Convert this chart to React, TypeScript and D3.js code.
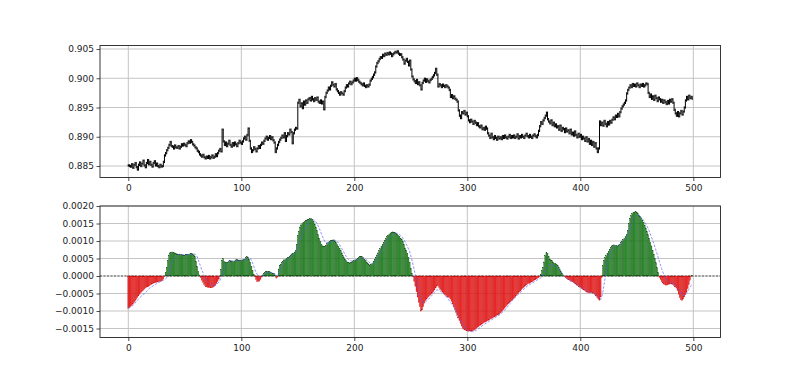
import React, { useEffect, useRef } from 'react';
import * as d3 from 'd3';

// Close prices in units of 0.0001 (index 0..499)
const closeX1e4 = [
8851,8850,8849,8853,8847,8852,8855,8848,8844,8852,
8856,8850,8854,8859,8851,8848,8855,8860,8853,8857,
8852,8849,8855,8858,8851,8854,8850,8848,8852,8849,
8850,8857,8868,8872,8877,8881,8886,8891,8884,8883,
8880,8885,8882,8881,8884,8880,8883,8887,8885,8888,
8886,8884,8889,8892,8890,8894,8891,8887,8885,8882,
8880,8876,8874,8870,8868,8866,8869,8865,8863,8866,
8864,8867,8863,8865,8868,8864,8866,8870,8867,8872,
8876,8879,8875,8912,8892,8886,8890,8884,8888,8893,
8886,8883,8889,8885,8890,8887,8884,8889,8893,8890,
8888,8892,8897,8900,8895,8903,8914,8893,8880,8874,
8877,8882,8879,8875,8880,8884,8881,8886,8890,8888,
8893,8897,8900,8895,8898,8901,8896,8899,8894,8890,
8874,8880,8886,8891,8895,8898,8902,8899,8906,8893,
8901,8906,8904,8912,8908,8889,8906,8912,8915,8914,
8958,8963,8952,8957,8949,8960,8955,8962,8958,8964,
8966,8962,8968,8964,8961,8966,8963,8967,8960,8958,
8962,8957,8960,8947,8968,8975,8979,8984,8981,8987,
8993,8989,8986,8990,8981,8978,8975,8972,8976,8974,
8972,8978,8984,8988,8986,8991,8994,8990,8993,8996,
8999,8996,9000,8997,8994,8992,8990,8988,8991,8987,
8985,8988,8986,8989,8996,8999,9002,9006,9010,9020,
9026,9029,9033,9036,9035,9040,9038,9042,9040,9043,
9041,9044,9042,9038,9041,9043,9045,9044,9046,9042,
9040,9041,9036,9032,9025,9030,9033,9028,9022,9030,
9015,9003,8998,8995,8992,8997,8990,8993,8988,8981,
8992,8996,8999,8994,8998,8995,8993,8997,8999,9002,
9005,9009,9016,9006,8986,8990,8988,8985,8989,8987,
8985,8988,8986,8984,8980,8968,8971,8966,8969,8965,
8963,8960,8945,8936,8932,8942,8940,8944,8938,8941,
8935,8928,8925,8929,8926,8922,8927,8924,8920,8923,
8918,8916,8919,8913,8915,8912,8917,8914,8906,8902,
8898,8905,8899,8896,8901,8898,8895,8900,8897,8899,
8896,8901,8898,8902,8899,8897,8900,8903,8898,8901,
8899,8902,8898,8900,8904,8897,8901,8899,8903,8900,
8898,8902,8905,8901,8899,8903,8900,8898,8902,8904,
8901,8899,8903,8910,8918,8925,8922,8928,8932,8936,
8941,8930,8926,8923,8928,8920,8924,8918,8921,8916,
8918,8912,8919,8910,8915,8913,8908,8914,8909,8911,
8906,8912,8904,8907,8902,8909,8903,8899,8905,8900,
8903,8896,8900,8897,8893,8899,8892,8896,8888,8893,
8886,8891,8883,8889,8880,8874,8880,8926,8920,8924,
8919,8927,8922,8918,8925,8921,8927,8924,8929,8933,
8930,8936,8934,8939,8935,8942,8948,8952,8955,8958,
8962,8974,8980,8984,8988,8985,8990,8987,8989,8986,
8991,8988,8985,8989,8987,8990,8986,8988,8991,8990,
8975,8968,8972,8965,8969,8963,8970,8966,8961,8967,
8964,8960,8963,8958,8962,8959,8956,8961,8957,8963,
8960,8964,8958,8946,8940,8936,8942,8935,8940,8944,
8938,8943,8950,8962,8968,8964,8970,8966,8968,8965,
];

// Oscillator histogram in units of 0.00001
const oscX1e5 = [
-92,-90,-87,-84,-80,-76,-72,-67,-62,-57,
-52,-48,-45,-42,-38,-35,-33,-31,-29,-27,
-25,-23,-21,-20,-19,-18,-17,-16,-15,-15,
-13,-9,-2,10,25,45,60,66,68,69,
68,66,64,63,62,61,62,61,60,59,
60,61,62,62,63,64,65,63,60,55,
42,28,14,3,-5,-12,-18,-24,-28,-31,
-32,-33,-33,-34,-33,-32,-30,-27,-22,-16,
-9,-2,18,45,50,42,40,39,38,41,
44,43,42,41,43,46,47,46,45,44,
45,46,47,48,52,55,54,48,40,28,
15,5,-2,-10,-16,-16,-15,-10,-3,3,
8,10,12,14,13,12,10,9,8,7,
3,-7,-3,20,31,34,38,42,46,48,
50,52,54,57,60,63,65,68,72,90,
115,128,140,146,150,153,155,158,160,161,
162,164,165,162,156,148,140,130,118,108,
98,90,86,84,85,88,92,96,99,101,
102,103,103,100,96,90,84,78,72,66,
58,52,48,44,40,38,37,38,40,42,
44,46,48,50,52,55,56,55,52,48,
44,40,36,32,31,33,36,42,48,54,
60,66,72,78,84,90,96,102,107,112,
116,120,123,125,126,125,124,122,120,117,
112,108,104,98,90,80,74,64,52,38,
22,8,-2,-15,-30,-45,-60,-75,-88,-100,
-97,-88,-78,-70,-66,-62,-58,-55,-52,-49,
-45,-40,-34,-29,-28,-33,-38,-42,-46,-50,
-53,-56,-58,-60,-62,-66,-72,-80,-88,-96,
-104,-112,-120,-128,-136,-143,-150,-152,-154,-156,
-157,-158,-157,-158,-157,-156,-155,-153,-150,-147,
-145,-142,-140,-137,-135,-133,-132,-130,-128,-126,
-124,-122,-121,-119,-117,-115,-113,-111,-109,-107,
-104,-100,-96,-92,-88,-84,-80,-77,-74,-71,
-68,-65,-61,-57,-53,-50,-46,-43,-39,-35,
-32,-29,-26,-24,-22,-21,-19,-17,-15,-13,
-11,-9,-7,-5,-2,5,15,25,40,58,
68,64,56,48,46,44,40,37,35,33,
30,25,18,12,7,3,-2,-5,-8,-10,
-11,-13,-15,-17,-19,-21,-23,-26,-28,-31,
-33,-36,-38,-40,-42,-44,-46,-48,-49,-48,
-47,-49,-50,-53,-57,-62,-67,-69,-60,-5,
30,45,52,58,64,70,76,82,86,88,
89,88,87,86,87,90,95,100,104,108,
112,118,130,150,165,172,178,181,183,184,
182,178,174,170,166,160,153,145,137,128,
118,108,97,86,74,62,50,38,24,10,
-4,-10,-16,-20,-23,-25,-26,-26,-24,-23,
-22,-23,-25,-28,-31,-35,-42,-52,-62,-68,
-70,-66,-60,-54,-46,-36,-25,-12,-2,2,
];

// Signal line in units of 0.00001
const signalX1e5 = [
-92,-91,-89,-87,-84,-81,-77,-74,-70,-66,
-62,-59,-56,-53,-51,-49,-45,-41,-37,-34,
-32,-30,-28,-26,-24,-22,-20,-18,-17,-15,
-14,-12,-10,-8,-5,0,8,18,30,40,
48,54,58,60,61,62,62,62,61,61,
60,60,60,61,61,62,62,63,63,62,
60,55,46,36,27,18,10,2,-5,-11,
-16,-20,-23,-25,-27,-28,-28,-27,-25,-22,
-18,-13,-6,2,10,20,30,36,40,42,
43,43,43,43,43,44,45,45,45,45,
45,45,46,46,47,49,51,52,50,45,
37,28,19,11,5,1,-2,-3,-2,0,
3,6,8,9,10,10,10,9,8,7,
5,2,1,6,13,20,27,33,38,42,
46,49,52,55,57,59,61,64,68,74,
82,90,99,108,117,125,132,139,145,150,
154,157,159,160,160,159,155,150,143,136,
128,120,112,104,98,95,94,94,95,97,
99,101,102,102,101,98,94,89,84,78,
72,66,60,55,50,47,44,43,43,43,
44,45,46,47,48,50,51,52,52,51,
49,46,43,40,37,35,34,35,37,41,
46,52,58,64,70,76,82,88,94,99,
104,108,112,116,119,121,122,122,122,121,
119,116,112,108,103,97,91,84,77,69,
58,46,32,18,3,-12,-27,-42,-56,-67,
-73,-76,-76,-74,-71,-68,-65,-62,-58,-54,
-50,-46,-42,-40,-40,-41,-43,-45,-48,-51,
-54,-58,-62,-66,-70,-74,-79,-84,-89,-95,
-101,-107,-113,-119,-125,-131,-137,-142,-146,-150,
-153,-155,-157,-158,-159,-159,-158,-157,-155,-153,
-150,-148,-145,-143,-140,-138,-136,-134,-132,-130,
-128,-126,-124,-122,-120,-118,-116,-114,-112,-110,
-107,-104,-101,-98,-94,-90,-86,-82,-78,-74,
-70,-66,-62,-59,-56,-53,-50,-47,-44,-41,
-38,-35,-32,-29,-27,-25,-23,-21,-19,-17,
-15,-13,-11,-9,-7,-5,-2,2,7,14,
22,28,31,33,33,32,31,30,28,25,
22,19,16,12,8,4,1,-2,-5,-8,
-10,-12,-14,-16,-18,-20,-22,-24,-26,-28,
-30,-32,-34,-36,-38,-40,-42,-44,-46,-47,
-48,-49,-50,-52,-54,-57,-61,-65,-67,-60,
-45,-25,-5,15,35,52,62,70,76,80,
83,85,87,88,89,90,92,95,98,102,
106,110,116,124,134,145,155,163,168,171,
173,173,172,170,167,163,159,154,149,143,
136,128,120,111,102,93,83,73,63,52,
41,31,21,12,4,-3,-9,-13,-16,-18,
-20,-21,-22,-24,-26,-29,-33,-38,-44,-50,
-54,-56,-55,-52,-48,-44,-38,-32,-27,-24,
];

const xTicks = [0, 100, 200, 300, 400, 500];
const priceTicks = [0.885, 0.89, 0.895, 0.9, 0.905];
const oscTicks = [-0.0015, -0.001, -0.0005, 0, 0.0005, 0.001, 0.0015, 0.002];

const FONT = 'DejaVu Sans';

export default function App() {
  const ref = useRef<SVGSVGElement>(null);
  useEffect(() => {
    const svg = d3.select(ref.current);
    svg.selectAll('*').remove();

    const L = 100, R = 720.5;
    const x = d3.scaleLinear().domain([0, 500]).range([128.3, 693.3]);

    const top = { t: 45.5, b: 177.5 };
    const bot = { t: 206, b: 337.5 };
    const yP = d3.scaleLinear().domain([0.885, 0.905]).range([166, 49]);
    const yO = d3.scaleLinear().domain([0, 0.002]).range([276, 206]);

    const closes = closeX1e4.map((v) => v / 10000);
    const osc = oscX1e5.map((v) => v / 100000);
    const sig = signalX1e5.map((v) => v / 100000);

    function drawFrame(g: any, y: any, ticks: number[], fmt: (n: number) => string, box: { t: number; b: number }) {
      g.append('g').selectAll('line').data(xTicks).join('line')
        .attr('x1', (d: number) => x(d)).attr('x2', (d: number) => x(d))
        .attr('y1', box.t).attr('y2', box.b)
        .attr('stroke', '#c4c4c4').attr('stroke-width', 1);
      g.append('g').selectAll('line').data(ticks).join('line')
        .attr('x1', L).attr('x2', R)
        .attr('y1', (d: number) => y(d)).attr('y2', (d: number) => y(d))
        .attr('stroke', '#c4c4c4').attr('stroke-width', 1);
      const ax = g.append('g').attr('transform', `translate(0,${box.b})`)
        .call(d3.axisBottom(x).tickValues(xTicks).tickSize(3.5).tickSizeOuter(0).tickPadding(3.5).tickFormat(d3.format('d')));
      const ay = g.append('g').attr('transform', `translate(${L},0)`)
        .call(d3.axisLeft(y).tickValues(ticks).tickSize(3.5).tickSizeOuter(0).tickPadding(2.5).tickFormat(fmt as any));
      [ax, ay].forEach((a) => {
        a.select('.domain').remove();
        a.attr('font-family', FONT).attr('font-size', 9);
        a.selectAll('text').attr('fill', '#222');
        a.selectAll('line').attr('stroke', '#222').attr('stroke-width', 0.8);
      });
    }

    function drawBorder(g: any, box: { t: number; b: number }) {
      g.append('rect').attr('x', L).attr('y', box.t).attr('width', R - L).attr('height', box.b - box.t)
        .attr('fill', 'none').attr('stroke', '#222').attr('stroke-width', 0.9);
    }

    // ---- Top: OHLC ----
    const gTop = svg.append('g');
    drawFrame(gTop, yP, priceTicks, d3.format('.3f'), top);
    const tickW = 0.4;
    const wick = 0.0002;
    let p = '';
    closes.forEach((c, i) => {
      const o = i > 0 ? closes[i - 1] : c;
      const hi = Math.max(o, c) + wick;
      const lo = Math.min(o, c) - wick;
      const xi = x(i);
      p += `M${xi},${yP(lo)}V${yP(hi)}`;
      p += `M${x(i - tickW)},${yP(o)}H${xi}`;
      p += `M${xi},${yP(c)}H${x(i + tickW)}`;
    });
    gTop.append('path').attr('d', p).attr('fill', 'none').attr('stroke', '#000').attr('stroke-width', 1);
    drawBorder(gTop, top);

    // ---- Bottom: histogram ----
    const gBot = svg.append('g');
    drawFrame(gBot, yO, oscTicks, d3.format('.4f'), bot);
    gBot.append('line').attr('x1', L).attr('x2', R).attr('y1', yO(0)).attr('y2', yO(0))
      .attr('stroke', '#333').attr('stroke-width', 0.8).attr('stroke-dasharray', '2,1.5');
    const bw = 0.8;
    gBot.append('g').selectAll('rect').data(osc).join('rect')
      .attr('x', (_d: number, i: number) => x(i - bw / 2))
      .attr('width', x(bw) - x(0))
      .attr('y', (d: number) => Math.min(yO(d), yO(0)))
      .attr('height', (d: number) => Math.abs(yO(d) - yO(0)))
      .attr('fill', (d: number) => (d >= 0 ? '#2ead2e' : '#ff2a2a'))
      .attr('stroke', (d: number) => (d >= 0 ? '#0c3a0c' : '#b80000'))
      .attr('stroke-width', 0.3);
    const line = d3.line<number>().x((_d, i) => x(i)).y((d) => yO(d));
    gBot.append('path').attr('d', line(sig) as string).attr('fill', 'none')
      .attr('stroke', '#5c5cff').attr('stroke-width', 0.8).attr('stroke-dasharray', '2.5,1.5').attr('opacity', 0.85);
    drawBorder(gBot, bot);
  }, []);
  return (
    <svg ref={ref} width={800} height={380}
      style={{ position: 'absolute', left: 0, top: 0, background: '#fff', display: 'block' }} />
  );
}
